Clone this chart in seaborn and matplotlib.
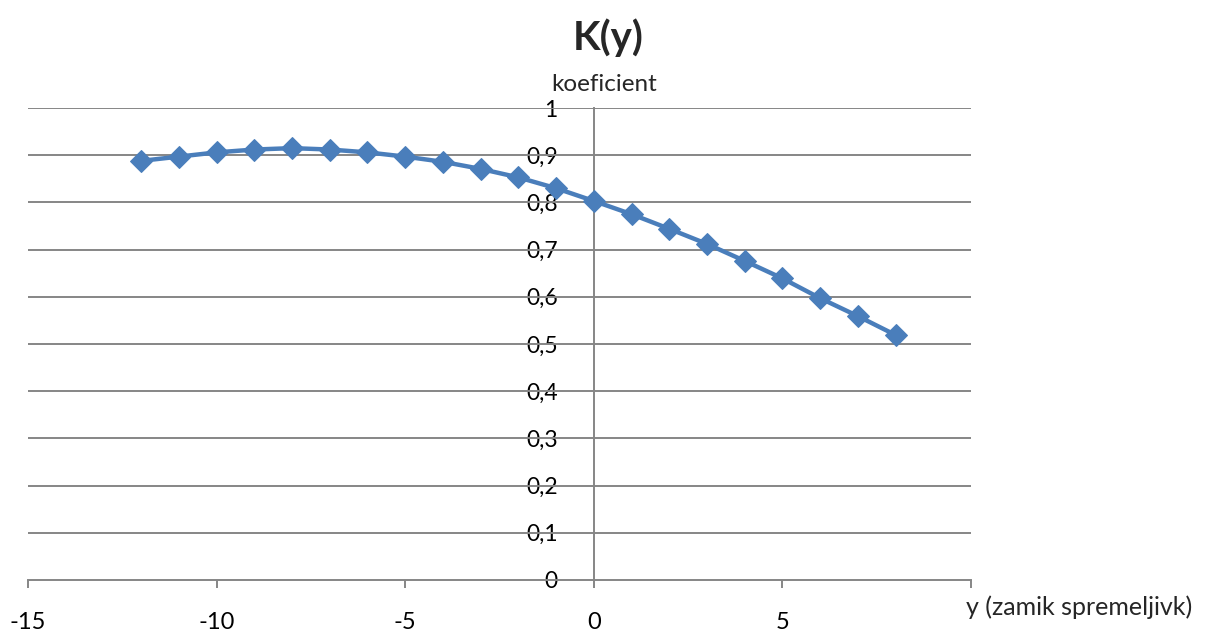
import matplotlib
matplotlib.use("Agg")
import matplotlib.pyplot as plt
import seaborn as sns
import pandas as pd

lag = [-12, -11, -10, -9, -8, -7, -6, -5, -4, -3, -2, -1, 0, 1, 2, 3, 4, 5, 6, 7, 8]
koef = [0.888, 0.897, 0.906, 0.912, 0.915, 0.912, 0.906, 0.897, 0.886, 0.871, 0.853,
        0.830, 0.803, 0.775, 0.744, 0.712, 0.676, 0.639, 0.597, 0.559, 0.519]
x_ticks = [-15, -10, -5, 0, 5, 10]
x_labels = ["-15", "-10", "-5", "0", "5", ""]
y_ticks = [0, 0.1, 0.2, 0.3, 0.4, 0.5, 0.6, 0.7, 0.8, 0.9, 1.0]
y_labels = ["0", "0,1", "0,2", "0,3", "0,4", "0,5", "0,6", "0,7", "0,8", "0,9", "1"]

sns.set_theme(style="white")
plt.rcParams['font.family'] = ['Lato', 'DejaVu Sans']

df = pd.DataFrame({"y": lag, "K": koef})
fig = plt.figure(figsize=(12.27, 6.32), dpi=100)
ax = fig.add_axes([0.0228, 0.0823, 0.7686, 0.7468])

grid_c = "#868686"
for v in y_ticks[1:]:
    ax.axhline(v, color=grid_c, lw=1.4, zorder=1)

sns.lineplot(data=df, x="y", y="K", ax=ax, color="#4A7EBB", lw=3.2,
             marker="D", markersize=11, markeredgecolor="#4A7EBB", zorder=3)

ax.set_xlim(-15, 10)
ax.set_ylim(0, 1)
ax.set_xticks(x_ticks)
ax.set_xticklabels(x_labels)
ax.set_yticks(y_ticks)
ax.set_yticklabels(y_labels)

for s in ["top", "right"]:
    ax.spines[s].set_visible(False)
ax.spines["left"].set_position(("data", 0))
ax.spines["left"].set_color(grid_c)
ax.spines["left"].set_linewidth(1.4)
ax.spines["bottom"].set_color(grid_c)
ax.spines["bottom"].set_linewidth(1.4)

ax.tick_params(axis="x", direction="out", length=6, width=1.4, color=grid_c,
               pad=17, bottom=True, labelcolor="black", labelsize=17)
ax.tick_params(axis="y", length=0, pad=26, left=True, labelcolor="black", labelsize=16.5)

ax.set_xlabel("")
ax.set_ylabel("")
fig.text(0.787, 0.040, "y (zamik spremeljivk)", fontsize=18, ha="left", va="center")
fig.text(0.492, 0.866, "koeficient", fontsize=17.5, ha="center", va="center")
fig.text(0.496, 0.94, "K(y)", fontsize=29, fontweight="bold", ha="center", va="center")

fig.savefig("out.png", dpi=100, facecolor="white")
